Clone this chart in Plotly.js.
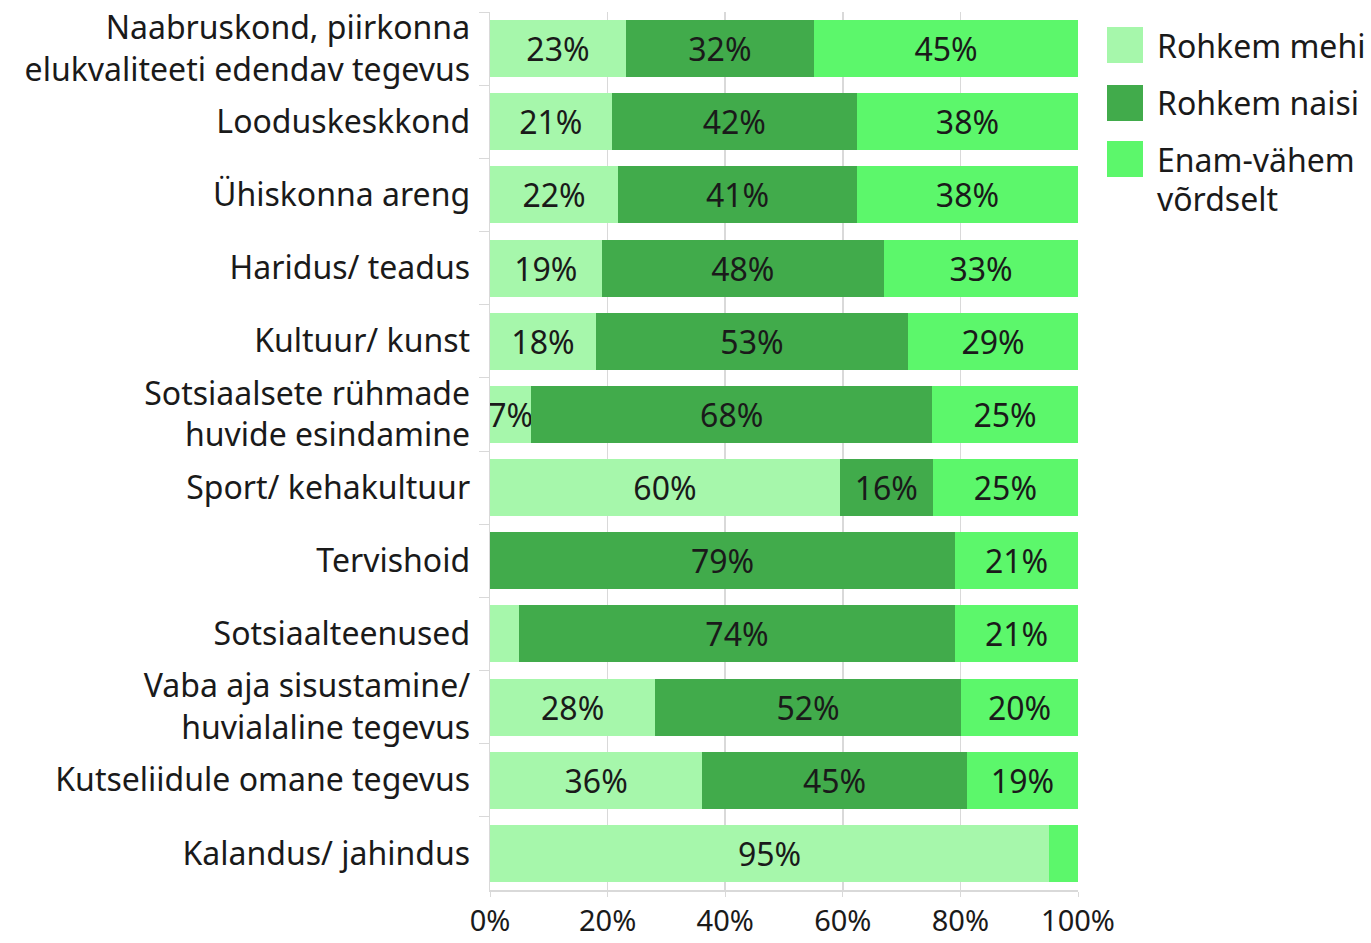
<!DOCTYPE html>
<html><head><meta charset="utf-8">
<script src="https://cdn.plot.ly/plotly-3.0.1.min.js"></script>
<style>body{margin:0;background:#fff}#chart{width:1371px;height:943px}</style>
</head><body><div id="chart"></div>
<script>
const categories = [
  "Naabruskond, piirkonna<br>elukvaliteeti edendav tegevus",
  "Looduskeskkond",
  "Ühiskonna areng",
  "Haridus/ teadus",
  "Kultuur/ kunst",
  "Sotsiaalsete rühmade<br>huvide esindamine",
  "Sport/ kehakultuur",
  "Tervishoid",
  "Sotsiaalteenused",
  "Vaba aja sisustamine/<br>huvialaline tegevus",
  "Kutseliidule omane tegevus",
  "Kalandus/ jahindus"
];
const rohkemMehi  = [23.1, 20.7, 21.8, 19.0, 18.0, 7.0, 59.5, 0, 4.9, 28.1, 36.1, 95.1];
const rohkemNaisi = [32.0, 41.7, 40.6, 48.0, 53.1, 68.2, 15.8, 79.1, 74.2, 52.0, 45.0, 0];
const vordselt    = [44.9, 37.6, 37.6, 33.0, 28.9, 24.8, 24.7, 20.9, 20.9, 19.9, 18.9, 4.9];
const seriesNames = ["Rohkem mehi", "Rohkem naisi", "Enam-vähem<br>võrdselt"];
const colors = ["#a6f7ab", "#41ab4b", "#5cf76b"];
const xTickVals = [0, 20, 40, 60, 80, 100];
const xTickText = ["0%", "20%", "40%", "60%", "80%", "100%"];

const font = "Noto Sans, sans-serif";
const FS = 32;
const txt = v => v >= 6 ? Math.round(v) + "%" : "";
const traces = [rohkemMehi, rohkemNaisi, vordselt].map((vals, i) => ({
  type: "bar", orientation: "h", name: seriesNames[i],
  y: categories, x: vals,
  marker: {color: colors[i]},
  text: vals.map(txt), textposition: "inside", insidetextanchor: "middle",
  textangle: 0, constraintext: "none", cliponaxis: false,
  textfont: {family: font, size: FS, color: "#1a1a1a"},
  hoverinfo: "skip", showlegend: false
}));

// plot area in pixels
const W = 1371, H = 943, L = 490, R = 1078, T = 12, B = 890;
const px = x => (x - L) / (R - L);
const py = y => (B - y) / (B - T);

// legend (drawn as shapes + annotations)
const legendTop = [27, 85, 141];
const shapes = [], annotations = [];
seriesNames.forEach((n, i) => {
  shapes.push({type: "rect", xref: "paper", yref: "paper",
    x0: px(1107), x1: px(1143), y0: py(legendTop[i]), y1: py(legendTop[i] + 36),
    fillcolor: colors[i], line: {width: 0}});
  const lines = n.split("<br>");
  lines.forEach((ln, j) => {
    annotations.push({xref: "paper", yref: "paper", x: px(1155), y: py(legendTop[i] + 18 + j * 40),
      xanchor: "left", yanchor: "middle", text: ln, showarrow: false,
      font: {family: font, size: FS, color: "#1a1a1a"}});
  });
});

const layout = {
  barmode: "stack", bargap: 0.22,
  width: W, height: H,
  margin: {l: L, r: W - R, t: T, b: H - B},
  paper_bgcolor: "#fff", plot_bgcolor: "#fff",
  font: {family: font, size: FS, color: "#1a1a1a"},
  xaxis: {range: [0, 100], tickvals: xTickVals, ticktext: xTickText,
    showgrid: true, gridcolor: "#d9d9d9", gridwidth: 1.5,
    showline: true, linecolor: "#d9d9d9", linewidth: 1.5,
    ticks: "outside", ticklen: 5, tickcolor: "#d9d9d9",
    zeroline: false, fixedrange: true,
    tickfont: {family: font, size: 29, color: "#1a1a1a"}},
  yaxis: {autorange: "reversed", type: "category",
    tickson: "boundaries", ticks: "outside", ticklen: 10, tickcolor: "#d9d9d9",
    showline: true, linecolor: "#d9d9d9", linewidth: 1.5,
    showgrid: false, ticklabelstandoff: 12,
    tickfont: {family: font, size: FS, color: "#1a1a1a"}},
  showlegend: false,
  shapes: shapes, annotations: annotations
};
Plotly.newPlot("chart", traces, layout, {displayModeBar: false, staticPlot: true});
</script></body></html>
